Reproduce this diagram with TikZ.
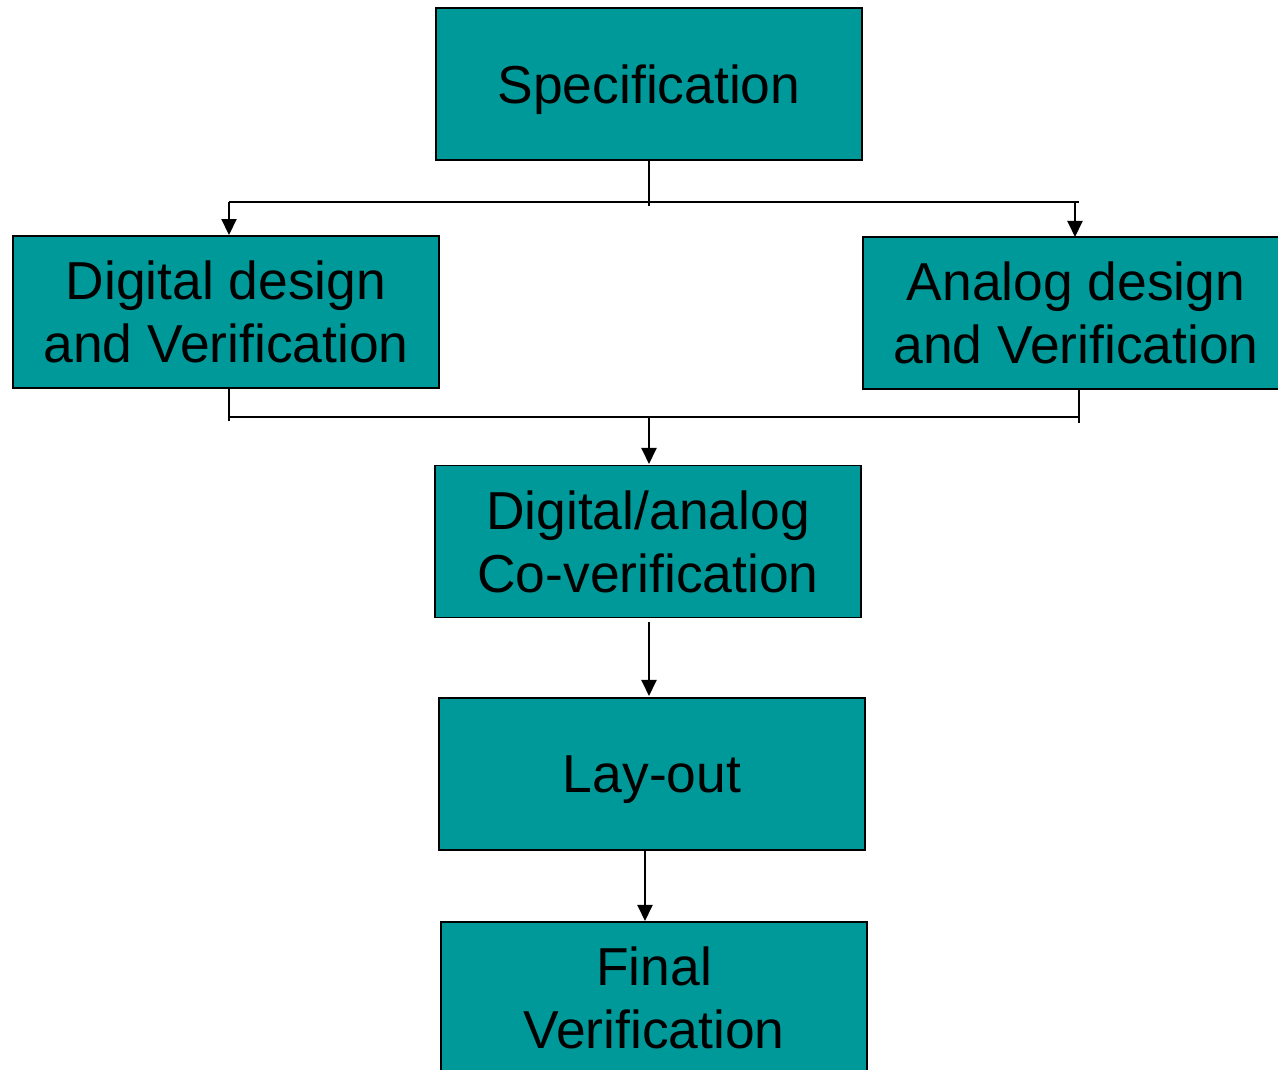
\documentclass[tikz,border=0pt]{standalone}
\usepackage{fontspec}
\setmainfont{Liberation Sans}
\usetikzlibrary{arrows.meta,positioning}
\definecolor{flowteal}{RGB}{0,153,153}
\tikzset{
      flowbox/.style={
        draw=black,
        line width=1.1pt,
        fill=flowteal,
        minimum width=8.52cm,
        minimum height=3.04cm,
        align=center,
        inner sep=0pt,
        text depth=0pt,
        font=\fontsize{30.4}{35.7}\selectfont
      },
      flowline/.style={line width=1.1pt},
      flowarrow/.style={line width=1.1pt, -{Triangle[length=0.32cm,width=0.3cm]}}
    }
\begin{document}
\begin{tikzpicture}[x=1cm,y=1cm]
    \useasboundingbox (0,0) rectangle (25.56,-21.4);
    \node[flowbox] (spec) at (12.98,-1.68) {Specification};
    \node[flowbox] (dig) at (4.52,-6.24) {Digital design\\and Verification};
    \node[flowbox] (ana) at (21.52,-6.26) {Analog design\\and Verification};
    \node[flowbox] (cover) at (12.96,-10.83) {Digital/analog\\Co-verification};
    \node[flowbox] (layout) at (13.04,-15.48) {Lay-out};
    \node[flowbox] (final) at (13.08,-19.96) {Final\\Verification};
    % split after specification
    \coordinate (topL) at (4.58,-4.04);
    \coordinate (topR) at (21.58,-4.04);
    \draw[flowline] (spec.south) -- ++(0,-0.9);
    \draw[flowline] (topL) -- (topR);
    \draw[flowarrow] (topL) -- (topL |- dig.north);
    \draw[flowarrow] (21.5,-4.04) -- (21.5,-4.74);
    % merge before co-verification
    \coordinate (botL) at (4.58,-8.34);
    \coordinate (botR) at (21.58,-8.34);
    \draw[flowline] (botL |- dig.south) -- ++(0,-0.64);
    \draw[flowline] (botR |- ana.south) -- ++(0,-0.66);
    \draw[flowline] (botL) -- (botR);
    \draw[flowarrow] (12.98,-8.34) -- (12.98,-9.28);
    \draw[flowarrow] (12.98,-12.44) -- (12.98,-13.92);
    \draw[flowarrow] (12.9,-17.0) -- (12.9,-18.42);
    \end{tikzpicture}
\end{document}
